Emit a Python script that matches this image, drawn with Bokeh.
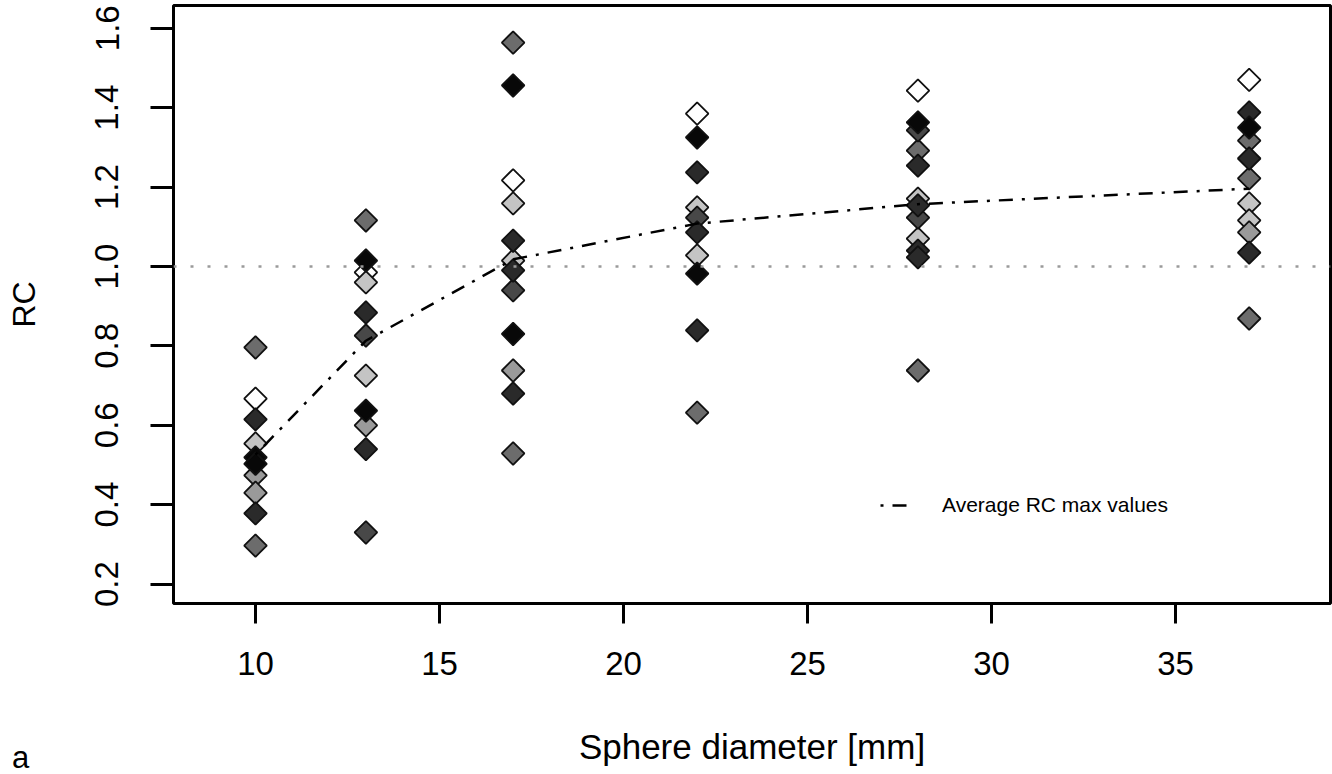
import math
from bokeh.plotting import figure
from bokeh.layouts import column
from bokeh.models import (Range1d, FixedTicker, Span, Legend, LegendItem, Div,
                          ColumnDataSource, NumeralTickFormatter)
from bokeh.embed import file_html
from bokeh.resources import INLINE

# ---------------- data ----------------
diameters = [10, 13, 17, 22, 28, 37]
avg_rc_max = [0.526, 0.813, 1.018, 1.108, 1.157, 1.196]
reference_rc = 1.0

x_ticks = [10, 15, 20, 25, 30, 35]
y_ticks = [0.2, 0.4, 0.6, 0.8, 1.0, 1.2, 1.4, 1.6]

# points grouped by marker fill shade
white_d = [10, 13, 17, 22, 28, 37]
white_rc = [0.667, 0.985, 1.217, 1.385, 1.443, 1.47]

light_d = [10, 13, 13, 17, 17, 22, 22, 28, 28, 37, 37]
light_rc = [0.554, 0.96, 0.725, 1.159, 1.015, 1.149, 1.028, 1.171, 1.07, 1.159, 1.116]

mid_d = [10, 10, 13, 17, 37]
mid_rc = [0.474, 0.43, 0.60, 0.738, 1.086]

gray_d = [10, 10, 13, 17, 17, 22, 28, 28, 37, 37, 37]
gray_rc = [0.796, 0.297, 1.116, 1.564, 0.529, 0.632, 1.292, 0.738, 1.317, 1.222, 0.869]

darkgray_d = [13, 13, 17, 22, 28, 28]
darkgray_rc = [0.826, 0.33, 0.94, 1.123, 1.343, 1.123]

dark_d = [10, 10, 13, 13, 17, 17, 17, 22, 22, 22, 28, 28, 28, 28, 37, 37, 37]
dark_rc = [0.615, 0.378, 0.884, 0.54, 1.065, 0.99, 0.68, 1.237, 1.086, 0.839,
           1.254, 1.154, 1.04, 1.023, 1.388, 1.272, 1.035]

black_d = [10, 10, 13, 13, 17, 17, 22, 22, 28, 37]
black_rc = [0.519, 0.503, 1.015, 0.637, 1.456, 0.83, 1.325, 0.982, 1.363, 1.35]

groups = [
    (white_d, white_rc, "#ffffff"),
    (light_d, light_rc, "#c4c4c4"),
    (mid_d, mid_rc, "#9a9a9a"),
    (gray_d, gray_rc, "#6c6c6c"),
    (darkgray_d, darkgray_rc, "#484848"),
    (dark_d, dark_rc, "#2a2a2a"),
    (black_d, black_rc, "#080808"),
]

FONT = "Liberation Sans"

fig = figure(width=1332, height=774, output_backend="svg", toolbar_location=None,
             x_range=Range1d(7.772, 39.21), y_range=Range1d(0.1511, 1.6574),
             min_border_left=173, min_border_right=2, min_border_top=5,
             min_border_bottom=171)

fig.grid.visible = False
fig.background_fill_color = "white"
fig.border_fill_color = "white"
fig.outline_line_color = "black"
fig.outline_line_width = 3

# reference dotted line
fig.add_layout(Span(location=reference_rc, dimension="width", line_color="#9a9a9a",
                    line_width=2.5, line_dash="3 14"))

for d, rc, col in groups:
    src = ColumnDataSource(dict(x=d, y=rc))
    fig.scatter("x", "y", source=src, marker="square", size=16, angle=math.pi / 4,
                fill_color=col, line_color="#111111", line_width=1.8)

avg_src = ColumnDataSource(dict(x=diameters, y=avg_rc_max))
avg_line = fig.line("x", "y", source=avg_src, line_color="black", line_width=2.5,
                    line_dash="3 9 14 9")

legend = Legend(items=[LegendItem(label="Average RC max values", renderers=[avg_line])],
                location=(707, 86), glyph_width=32, glyph_height=20, label_standoff=30,
                label_text_font=FONT, label_text_font_size="21px",
                label_text_color="black", padding=0, margin=0,
                spacing=0, border_line_alpha=0, background_fill_alpha=0)
fig.add_layout(legend, "center")

for ax in (fig.xaxis[0], fig.yaxis[0]):
    ax.axis_line_color = None
    ax.major_tick_line_color = "black"
    ax.major_tick_line_width = 3
    ax.major_tick_in = 0
    ax.minor_tick_line_color = None
    ax.major_label_text_font = FONT
    ax.major_label_text_font_size = "33px"
    ax.major_label_text_color = "black"
    ax.axis_label_text_font = FONT
    ax.axis_label_text_font_style = "normal"
    ax.axis_label_text_color = "black"

fig.xaxis.ticker = FixedTicker(ticks=x_ticks)
fig.yaxis.ticker = FixedTicker(ticks=y_ticks)
fig.yaxis.formatter = NumeralTickFormatter(format="0.0")
fig.xaxis.axis_label = "Sphere diameter [mm]"
fig.yaxis.axis_label = "RC"
fig.xaxis.axis_label_text_font_size = "35px"
fig.yaxis.axis_label_text_font_size = "32px"
fig.xaxis.major_tick_out = 20
fig.yaxis.major_tick_out = 23
fig.xaxis.major_label_standoff = 28
fig.yaxis.major_label_standoff = 32
fig.yaxis.major_label_orientation = "vertical"
fig.xaxis.axis_label_standoff = 49
fig.yaxis.axis_label_standoff = 51

panel_tag = Div(text="a", width=30, height=32, margin=(-32, 0, 0, 12),
                styles={"font-family": FONT, "font-size": "31px", "color": "black",
                        "line-height": "1"})

p = column(fig, panel_tag, spacing=0)

open("out.html", "w").write(file_html(p, INLINE))
